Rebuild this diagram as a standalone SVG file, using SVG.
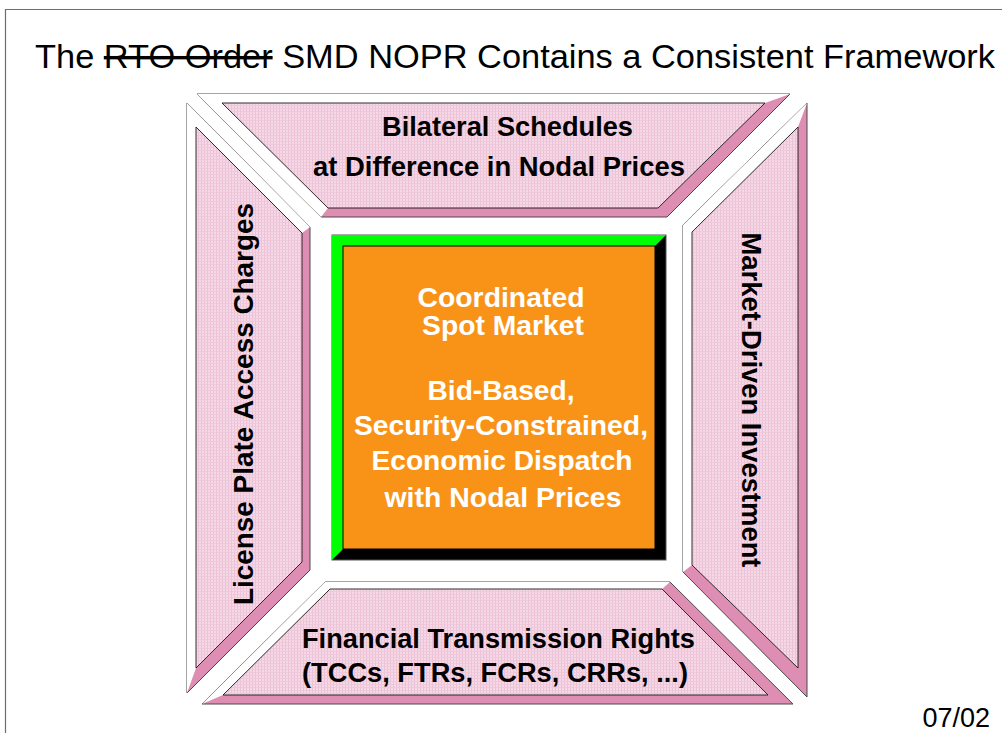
<svg xmlns="http://www.w3.org/2000/svg" width="1002" height="733" viewBox="0 0 1002 733">
<defs>
<pattern id="dots" width="3" height="3" patternUnits="userSpaceOnUse">
<rect width="3" height="3" fill="#f6d9e7"/>
<rect width="1" height="3" fill="#ecc1d6"/>
<rect width="3" height="1" fill="#efc8db"/>
</pattern>
</defs>
<style>
.outer{fill:#de8db3;stroke:#4a4a4a;stroke-width:1}
.light{fill:#ffffff;stroke:none}
.face{fill:url(#dots);stroke:#1a1a1a;stroke-width:0.9}
.lbl{font-family:"Liberation Sans",Arial,sans-serif;font-weight:bold;font-size:27px;fill:#000}
.ctr{font-family:"Liberation Sans",Arial,sans-serif;font-weight:bold;font-size:28px;fill:#ffffff;text-anchor:middle}
</style>
<rect x="0" y="0" width="1002" height="733" fill="#ffffff"/>
<path d="M5.5,733 V9.5 H1002" fill="none" stroke="#6e6e6e" stroke-width="1.2"/>
<text x="35" y="68" font-family="Liberation Sans,Arial,sans-serif" font-size="34" fill="#000" textLength="960" lengthAdjust="spacingAndGlyphs">The <tspan text-decoration="line-through">RTO Order</tspan> SMD NOPR Contains a Consistent Framework</text>
<text x="990" y="727" font-family="Liberation Sans,Arial,sans-serif" font-size="27" fill="#000" text-anchor="end">07/02</text>

<g id="top-node">
<polygon class="outer" points="197,94 790,94 667,217 321,217"/>
<polygon class="light" points="321,217 197,94 790,94 765,103 222,103 328,208"/>
<polygon class="face" points="222,103 765,103 658,208 328,208"/>
<text class="lbl" x="382" y="136" textLength="251" lengthAdjust="spacingAndGlyphs">Bilateral Schedules</text>
<text class="lbl" x="313" y="176" textLength="372" lengthAdjust="spacingAndGlyphs">at Difference in Nodal Prices</text>
</g>

<g id="left-node">
<polygon class="outer" points="187,103 310,227 310,570 187,693"/>
<polygon class="light" points="187,693 187,103 310,227 302,233 196,127 196,668"/>
<polygon class="face" points="196,127 302,233 302,562 196,668"/>
<text class="lbl" transform="translate(253,404) rotate(-90)" x="0" y="0" text-anchor="middle" textLength="402" lengthAdjust="spacingAndGlyphs">License Plate Access Charges</text>
</g>

<g id="right-node">
<polygon class="outer" points="683,225 807,103 807,697 683,572"/>
<polygon class="light" points="683,572 683,225 807,103 798,127 692,232 692,565"/>
<polygon class="face" points="692,232 798,127 798,668 692,565"/>
<text class="lbl" transform="translate(742,400) rotate(90)" x="0" y="0" text-anchor="middle" textLength="335" lengthAdjust="spacingAndGlyphs">Market-Driven Investment</text>
</g>

<g id="bottom-node">
<polygon class="outer" points="325,582 670,582 793,704 202,704"/>
<polygon class="light" points="202,704 325,582 670,582 662,589 330,589 223,695"/>
<polygon class="face" points="330,589 662,589 768,695 223,695"/>
<text class="lbl" x="302" y="648" textLength="393" lengthAdjust="spacingAndGlyphs">Financial Transmission Rights</text>
<text class="lbl" x="302" y="682" textLength="386" lengthAdjust="spacingAndGlyphs">(TCCs, FTRs, FCRs, CRRs, ...)</text>
</g>

<g id="center-node">
<rect x="332" y="235" width="334" height="325" fill="#000" stroke="#555" stroke-width="1"/>
<polygon points="332,235 666,235 655,246 343,246 343,549 332,560" fill="#00ff00"/>
<rect x="343" y="246" width="312" height="303" fill="#f99318" stroke="#000" stroke-width="1"/>
<text class="ctr" x="501" y="307" textLength="167" lengthAdjust="spacingAndGlyphs">Coordinated</text>
<text class="ctr" x="503" y="335" textLength="162" lengthAdjust="spacingAndGlyphs">Spot Market</text>
<text class="ctr" x="501" y="400" textLength="147" lengthAdjust="spacingAndGlyphs">Bid-Based,</text>
<text class="ctr" x="501" y="435" textLength="294" lengthAdjust="spacingAndGlyphs">Security-Constrained,</text>
<text class="ctr" x="502" y="470" textLength="261" lengthAdjust="spacingAndGlyphs">Economic Dispatch</text>
<text class="ctr" x="503" y="507" textLength="237" lengthAdjust="spacingAndGlyphs">with Nodal Prices</text>
</g>

<g id="connectors"></g>
</svg>
